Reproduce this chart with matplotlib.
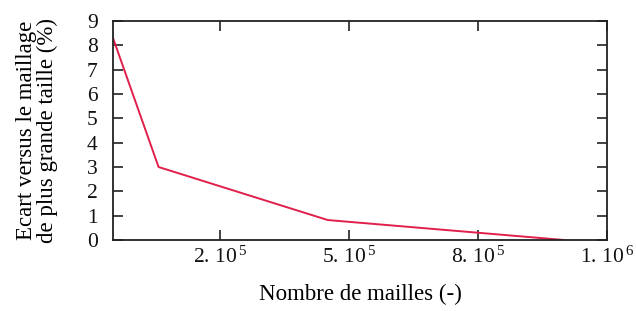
import matplotlib
matplotlib.use("Agg")
import matplotlib.pyplot as plt

# mesh size study: deviation vs. the finest mesh
n_cells = [-5.0e4, 5.6e4, 4.5e5, 1.0e6]
ecart = [8.3, 3.0, 0.82, 0.0]

xtick_pos = [2e5, 5e5, 8e5, 1.1e6]
xtick_labels = [r"2. 10$^{\,5}$", r"5. 10$^{\,5}$", r"8. 10$^{\,5}$", r"1. 10$^{\,6}$"]
yticks = list(range(0, 10))

plt.rcParams["font.family"] = "Liberation Serif"
plt.rcParams["mathtext.fontset"] = "custom"
plt.rcParams["mathtext.rm"] = "Liberation Serif"
plt.rcParams["mathtext.it"] = "Liberation Serif"

fig = plt.figure(figsize=(6.36, 3.11), dpi=100)
ax = fig.add_axes([0.1777, 0.2283, 0.9544 - 0.1777, 0.9325 - 0.2283])

ax.plot(n_cells, ecart, color="#e0204a", linewidth=1.4, clip_on=True)

ax.set_xlim(-5e4, 1.1e6)
ax.set_ylim(0, 9)
ax.set_xticks(xtick_pos)
ax.set_xticklabels(xtick_labels)
ax.set_yticks(yticks)

ax.tick_params(direction="in", length=7, width=1.2, top=True, right=True,
               labelsize=15.5, color="#222222", labelcolor="#111111")
ax.tick_params(axis="y", pad=11)
ax.tick_params(axis="x", pad=5)
for s in ax.spines.values():
    s.set_linewidth(1.3)
    s.set_color("#222222")

ax.set_xlabel("Nombre de mailles (-)", fontsize=16.5, labelpad=11)
ax.set_ylabel("Ecart versus le maillage\nde plus grande taille (%)",
              fontsize=16.5, linespacing=0.95, labelpad=21)

fig.savefig("out.png", dpi=100)
